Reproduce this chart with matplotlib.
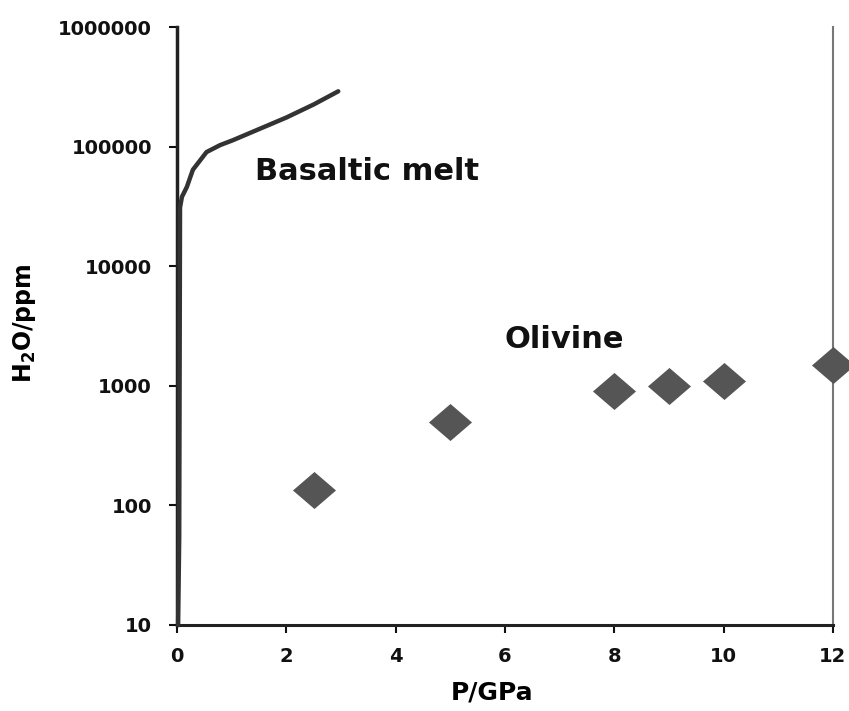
import matplotlib
matplotlib.use("Agg")
import matplotlib.pyplot as plt
from matplotlib.path import Path
from matplotlib.ticker import NullLocator

plt.rcParams['font.family'] = ['DejaVu Sans']
plt.rcParams['mathtext.fontset'] = 'dejavusans'

# Water solubility in basaltic melt versus pressure
melt_p = [0.02, 0.04, 0.055, 0.09, 0.18, 0.29, 0.54, 0.79, 1.02, 1.5, 2.0, 2.5, 2.95]
melt_h2o = [10, 55, 31000, 38000, 46000, 64000, 90000, 103000, 113000,
            140000, 175000, 225000, 290000]

# Water content in olivine versus pressure
ol_p = [2.5, 5, 8, 9, 10, 12]
ol_h2o = [135, 500, 900, 1000, 1100, 1500]

x_ticks = [0, 2, 4, 6, 8, 10, 12]
y_ticks = [10, 100, 1000, 10000, 100000, 1000000]

fig = plt.figure(figsize=(8.49, 7.11), dpi=100)
ax = fig.add_axes([0.2085, 0.121, 0.7725, 0.841])

ax.set_yscale('log')
ax.set_xlim(0, 12)
ax.set_ylim(10, 1000000)

ax.plot(melt_p, melt_h2o, color='#333333', lw=3.2, solid_capstyle='round',
        zorder=3, clip_on=False)

diamond = Path([(-1, 0), (0, 0.86), (1, 0), (0, -0.86), (-1, 0)],
               [Path.MOVETO, Path.LINETO, Path.LINETO, Path.LINETO, Path.CLOSEPOLY])
ax.plot(ol_p, ol_h2o, linestyle='none', marker=diamond, markersize=31,
        color='#555555', markeredgewidth=0, zorder=4, clip_on=False)

ax.text(1.42, 62000, 'Basaltic melt', fontsize=22, fontweight='bold',
        color='#111111', ha='left', va='center')
ax.text(6.0, 2450, 'Olivine', fontsize=22, fontweight='bold',
        color='#111111', ha='left', va='center')

ax.set_xticks(x_ticks)
ax.set_xticklabels([str(v) for v in x_ticks])
ax.set_yticks(y_ticks)
ax.set_yticklabels([str(v) for v in y_ticks])
ax.yaxis.set_minor_locator(NullLocator())

ax.tick_params(axis='both', direction='out', length=6, width=1.5,
               labelsize=14, colors='#111111')
ax.tick_params(axis='y', pad=12)
ax.tick_params(axis='x', pad=10)
for lab in ax.get_xticklabels() + ax.get_yticklabels():
    lab.set_fontweight('bold')

ax.spines['top'].set_visible(False)
ax.spines['left'].set_linewidth(2.5)
ax.spines['left'].set_color('#222222')
ax.spines['bottom'].set_linewidth(2.2)
ax.spines['bottom'].set_color('#222222')
ax.spines['right'].set_linewidth(1.5)
ax.spines['right'].set_color('#777777')

ax.set_xlabel('P/GPa', fontsize=18, fontweight='bold')
ax.xaxis.set_label_coords(0.48, -0.093)
ax.set_ylabel(r'H$_{\mathbf{2}}$O/ppm', fontsize=17, fontweight='bold')
ax.yaxis.set_label_coords(-0.212, 0.505)

fig.savefig('out.png', dpi=100)
